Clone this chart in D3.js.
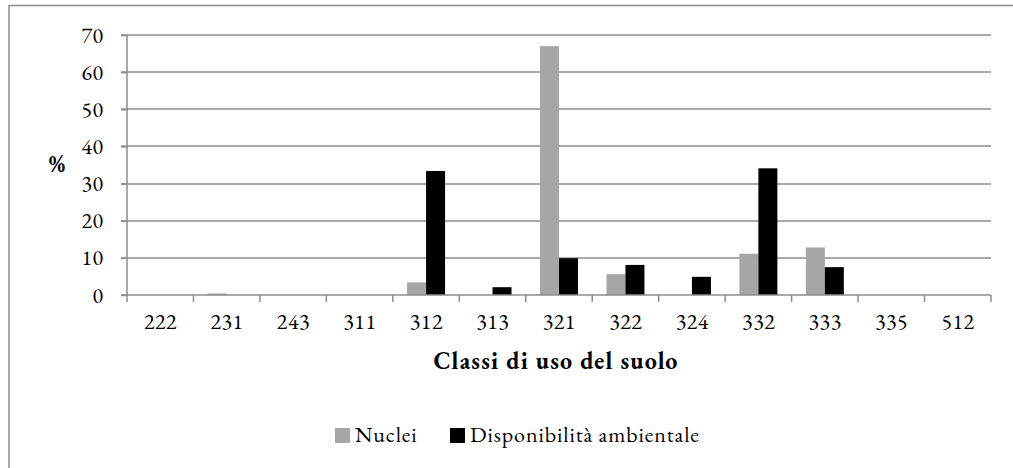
<!DOCTYPE html>
<html><head><meta charset="utf-8">
<script src="https://cdn.jsdelivr.net/npm/d3@7"></script>
<style>body{margin:0;background:#fff}svg{display:block}</style>
</head><body>
<script>
const categories = ["222","231","243","311","312","313","321","322","324","332","333","335","512"];
const nuclei = [0,0.4,0,0,3.4,0,67.0,5.6,0,11.1,12.8,0,0];
const disponibilita = [0,0,0,0,33.4,2.1,9.9,8.1,4.9,34.1,7.5,0,0];
const yTicks = [0,10,20,30,40,50,60,70];
const seriesNames = ["Nuclei","Disponibilità ambientale"];
const seriesColors = ["#a6a6a6","#000000"];

(function(){
const W=1013,H=468;
const FONT="'EB Garamond','Liberation Serif',serif";
const svg=d3.select("body").append("svg").attr("width",W).attr("height",H);
svg.append("rect").attr("x",9).attr("y",5.5).attr("width",1020).attr("height",480).attr("fill","#fff").attr("stroke","#8c8c8c").attr("stroke-width",1.5);

const pl=127,pr=991,pt=35,pb=295;
const x=d3.scaleBand().domain(categories).range([pl,pr]).paddingInner(0).paddingOuter(0);
const y=d3.scaleLinear().domain([0,70]).range([pb,pt]);
const bw=x.bandwidth()/3.5;

function styleText(sel,size,weight,ls){
  sel.style("font-family",FONT).style("font-size",size+"px").style("font-weight",weight||"normal")
     .style("letter-spacing",(ls||0)+"px").attr("fill","#000");
}

// gridlines
svg.append("g").selectAll("line").data(yTicks.slice(1)).join("line")
  .attr("x1",pl-6).attr("x2",pr).attr("y1",d=>Math.round(y(d))).attr("y2",d=>Math.round(y(d)))
  .attr("stroke","#8c8c8c").attr("stroke-width",1.5);

// bars
const series=[nuclei,disponibilita];
series.forEach((vals,si)=>{
  svg.append("g").selectAll("rect").data(categories).join("rect")
    .attr("x",(c)=>x(c)+x.bandwidth()/2-bw+si*bw)
    .attr("width",bw)
    .attr("y",(c,i)=>y(vals[i]))
    .attr("height",(c,i)=>pb-y(vals[i]))
    .attr("fill",seriesColors[si]);
});

// y axis
const ya=svg.append("g").attr("transform",`translate(${pl},0)`)
  .call(d3.axisLeft(y).tickValues(yTicks).tickSize(6).tickPadding(17.5));
ya.select(".domain").attr("stroke","#8c8c8c").attr("stroke-width",1.5).attr("d",`M0,${pt}V${pb}`);
ya.selectAll(".tick line").attr("stroke","#8c8c8c").attr("stroke-width",1.5);
styleText(ya.selectAll("text"),22,"normal",0.5);

// x axis
svg.append("line").attr("x1",pl-6).attr("x2",pr).attr("y1",pb).attr("y2",pb).attr("stroke","#8c8c8c").attr("stroke-width",1.5);
const bounds=categories.map(c=>x(c)).concat([pr]);
svg.append("g").selectAll("line").data(bounds).join("line")
  .attr("x1",d=>d).attr("x2",d=>d).attr("y1",pb).attr("y2",pb+7)
  .attr("stroke","#8c8c8c").attr("stroke-width",1.5);
const xl=svg.append("g").selectAll("text").data(categories).join("text")
  .attr("x",c=>x(c)+x.bandwidth()/2+0.3).attr("y",329).attr("text-anchor","middle").text(c=>c);
styleText(xl,22,"normal",0.5);

// axis titles
styleText(svg.append("text").attr("x",556).attr("y",369).attr("text-anchor","middle").text("Classi di uso del suolo"),24,"bold",1.2);
styleText(svg.append("text").attr("x",57).attr("y",172).attr("text-anchor","middle").text("%"),24,"bold",0);

// legend
const lg=[{x:335,tx:355},{x:450,tx:470}];
seriesNames.forEach((n,i)=>{
  svg.append("rect").attr("x",lg[i].x).attr("y",428).attr("width",15).attr("height",15).attr("fill",seriesColors[i]);
  styleText(svg.append("text").attr("x",lg[i].tx).attr("y",442).text(n),22,"normal",0.9);
});
})();
</script>
</body></html>
